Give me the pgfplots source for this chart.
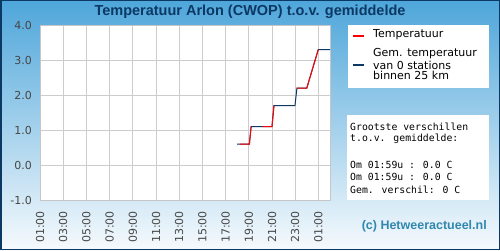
\documentclass[border=0pt]{standalone}
\usepackage{pgfplots}
\pgfplotsset{compat=1.18}
\usepackage{fontspec}
\setmainfont{Liberation Sans}
\newfontfamily\dejavu{DejaVu Sans}
\newfontfamily\mono{DejaVu Sans Mono}
\definecolor{bgtop}{RGB}{78,166,218}
\definecolor{bgbot}{RGB}{246,250,253}
\definecolor{navy}{RGB}{12,56,100}
\definecolor{ticktxt}{RGB}{70,70,70}
\definecolor{copyc}{RGB}{50,135,175}
\begin{document}
\begin{tikzpicture}[x=1bp,y=1bp]
\useasboundingbox (0,0) rectangle (500,250);
\shade[top color=bgtop,bottom color=bgbot] (0,0) rectangle (500,250);
\draw[navy,line width=1.5bp] (0.75,0.75) rectangle (499.25,249.25);
\node[font=\bfseries\fontsize{14.5bp}{16bp}\selectfont,text=navy] at (250,238) {Temperatuur Arlon (CWOP) t.o.v. gemiddelde};
\begin{axis}[
  at={(40bp,50bp)}, anchor=south west,
  width=290bp, height=175bp, scale only axis,
  xmin=0, xmax=25, ymin=-1, ymax=4,
  axis background/.style={fill=white},
  xtick={0,2,...,24},
  xticklabels={01:00,03:00,05:00,07:00,09:00,11:00,13:00,15:00,17:00,19:00,21:00,23:00,01:00},
  x tick label style={rotate=90,anchor=east,font=\dejavu\fontsize{11bp}{13bp}\selectfont,text=ticktxt,inner sep=2bp},
  xticklabel shift=9bp,
  ytick={-1,0,1,2,3,4},
  yticklabel style={/pgf/number format/fixed,/pgf/number format/fixed zerofill,/pgf/number format/precision=1,font=\dejavu\fontsize{11bp}{13bp}\selectfont,text=ticktxt,inner sep=2bp},
  yticklabel shift=6bp,
  /pgf/number format/assume math mode=true,
  grid=major, major grid style={gray!40,line width=0.8bp},
  axis line style={gray!45,line width=0.8bp},
  major tick length=0pt,
  unbounded coords=jump,
]
\addplot[navy,line width=1bp] coordinates {(17.0,0.6) (18.05,0.6) (18.2,1.1) (20.0,1.1) (20.17,1.7) (21.98,1.7) (22.15,2.2) (23.0,2.2) (23.99,3.3) (25,3.3)};
\addplot[red,line width=1bp] coordinates {(17.24,0.6) (18.05,0.6) (18.2,1.1) (18.2,nan) (19.2,1.1) (20.0,1.1) (20.17,1.7) (20.17,nan) (22.15,2.2) (23.0,2.2) (23.99,3.3)};
\end{axis}
\fill[white] (348,162) rectangle (489,225);
\draw[red,line width=1.5bp] (353,214) -- (364,214);
\draw[navy,line width=1.5bp] (353,185) -- (364,185);
\begin{scope}[every node/.style={anchor=west,inner sep=0pt,font=\dejavu\fontsize{11bp}{12bp}\selectfont}]
\node at (373,215) {Temperatuur};
\node at (373,196) {Gem. temperatuur};
\node at (373,185) {van 0 stations};
\node at (373,174.5) {binnen 25 km};
\end{scope}
\fill[white] (347,50) rectangle (489,135);
\begin{scope}[every node/.style={anchor=west,inner sep=0pt,font=\mono\fontsize{9.8bp}{11bp}\selectfont}]
\node at (350,123) {Grootste verschillen};
\node at (350,111) {t.o.v. gemiddelde:};
\node at (350,85) {Om 01:59u : 0.0 C};
\node at (350,73) {Om 01:59u : 0.0 C};
\node at (350,60) {Gem. verschil: 0 C};
\end{scope}
\node[anchor=east,inner sep=0pt,text=copyc,font=\bfseries\fontsize{12.5bp}{14bp}\selectfont] at (487,24) {(c) Hetweeractueel.nl};
\end{tikzpicture}
\end{document}
